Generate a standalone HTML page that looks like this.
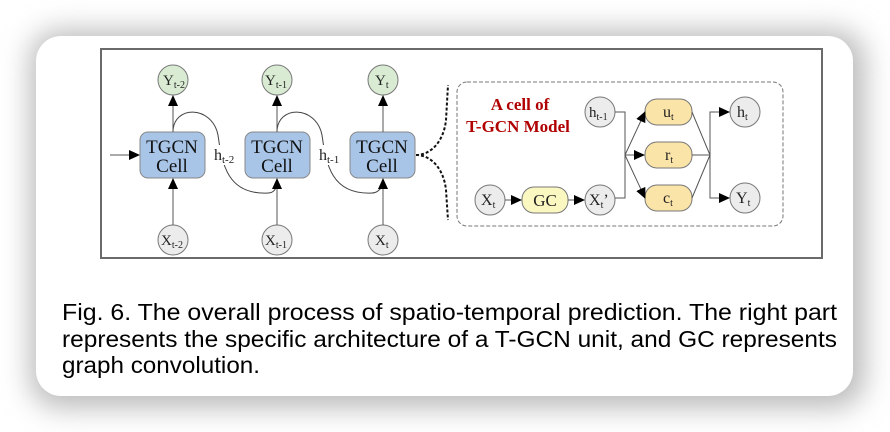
<!DOCTYPE html>
<html><head><meta charset="utf-8"><style>
html,body{margin:0;padding:0;background:#fff;}
body{width:890px;height:432px;overflow:hidden;position:relative;}
</style></head><body>
<svg width="890" height="432" viewBox="0 0 890 432" xmlns="http://www.w3.org/2000/svg" style="position:absolute;left:0;top:0">
<defs>
<filter id="sh" x="-10%" y="-20%" width="120%" height="140%"><feGaussianBlur stdDeviation="14"/></filter>
<marker id="a" markerWidth="11" markerHeight="10" refX="10" refY="5" orient="auto" markerUnits="userSpaceOnUse"><path d="M0,0 L11,5 L0,10 Z" fill="#000"/></marker>
</defs>
<rect x="0" y="0" width="890" height="432" fill="#fff"/>
<rect x="30" y="30" width="835" height="378" rx="30" fill="#bbb" filter="url(#sh)"/>
<rect x="36" y="36" width="817" height="360" rx="25" fill="#fff"/>
<rect x="101" y="49" width="721" height="209" fill="none" stroke="#6a6a6a" stroke-width="2"/>

<g font-family="Liberation Serif, serif" font-size="15" fill="#222" stroke-width="1">
<g stroke="#777" fill="#d9ecd3">
<circle cx="173" cy="80" r="15"/><circle cx="277" cy="80" r="15"/><circle cx="383" cy="80" r="15"/>
</g>
<g stroke="#777" fill="#ececec">
<circle cx="173" cy="240" r="15"/><circle cx="277" cy="240" r="15"/><circle cx="383" cy="240" r="15"/>
</g>
<text x="163" y="85">Y<tspan font-size="10" dy="3">t-2</tspan></text>
<text x="265" y="85">Y<tspan font-size="10" dy="3">t-1</tspan></text>
<text x="375" y="85">Y<tspan font-size="10" dy="3">t</tspan></text>
<text x="161" y="245">X<tspan font-size="10" dy="3">t-2</tspan></text>
<text x="265" y="245">X<tspan font-size="10" dy="3">t-1</tspan></text>
<text x="375" y="245">X<tspan font-size="10" dy="3">t</tspan></text>
<!-- h curves -->
<g stroke="#444" fill="none">
<path d="M173,132 C173,105 212,105 218,135 C222,165 228,195 268,193 C273,193 275,190 277,186"/>
<path d="M277,132 C277,105 316,105 322,135 C326,165 332,195 372,193 C377,193 379,190 383,186"/>
</g>
<rect x="212" y="145" width="28" height="20" fill="#fff"/>
<rect x="317" y="145" width="28" height="20" fill="#fff"/>
<text x="214" y="160" font-size="16">h<tspan font-size="11" dy="3">t-2</tspan></text>
<text x="319" y="160" font-size="16">h<tspan font-size="11" dy="3">t-1</tspan></text>
<g stroke="#888" fill="#a8c5e8">
<rect x="140" y="132" width="65" height="46" rx="8"/>
<rect x="245" y="132" width="65" height="46" rx="8"/>
<rect x="350" y="132" width="65" height="46" rx="8"/>
</g>
<g font-size="19" text-anchor="middle" fill="#111">
<text x="172" y="153">TGCN</text><text x="172" y="172">Cell</text>
<text x="277" y="153">TGCN</text><text x="277" y="172">Cell</text>
<text x="382" y="153">TGCN</text><text x="382" y="172">Cell</text>
</g>
<g stroke="#555" fill="none" marker-end="url(#a)">
<line x1="173" y1="132" x2="173" y2="96"/><line x1="277" y1="132" x2="277" y2="96"/><line x1="383" y1="132" x2="383" y2="96"/>
<line x1="173" y1="225" x2="173" y2="179"/><line x1="277" y1="225" x2="277" y2="179"/><line x1="383" y1="225" x2="383" y2="179"/>
<line x1="110" y1="155" x2="139" y2="155"/>
</g>
<path d="M416,155 C432,155 444,140 446,120 L448,85 M416,155 C432,155 444,170 446,190 L448,220" stroke="#111" stroke-width="2" stroke-dasharray="3,2" fill="none"/>
<rect x="457" y="82" width="326" height="144" rx="10" fill="none" stroke="#777" stroke-dasharray="4,2"/>
<g font-weight="bold" fill="#b00000" font-size="17" text-anchor="middle">
<text x="520" y="110">A cell of</text><text x="518" y="132">T-GCN Model</text>
</g>
<g stroke="#777" fill="#ececec">
<circle cx="600" cy="112" r="15"/><circle cx="490" cy="200" r="15"/><circle cx="600" cy="200" r="15"/>
<circle cx="745" cy="112" r="15"/><circle cx="745" cy="198" r="15"/>
</g>
<rect x="522" y="187" width="46" height="26" rx="12" fill="#fbf7c0" stroke="#777"/>
<g fill="#fbe4a8" stroke="#777">
<rect x="645" y="99" width="47" height="26" rx="12"/>
<rect x="645" y="142" width="47" height="26" rx="12"/>
<rect x="645" y="185" width="47" height="26" rx="12"/>
</g>
<text x="589" y="117">h<tspan font-size="10" dy="3">t-1</tspan></text>
<text x="481" y="205" font-size="16">X<tspan font-size="10" dy="3">t</tspan></text>
<text x="589" y="205" font-size="16">X<tspan font-size="10" dy="3">t</tspan><tspan dy="-3">’</tspan></text>
<text x="545" y="206" text-anchor="middle" font-size="17">GC</text>
<text x="663" y="117" font-size="16">u<tspan font-size="10" dy="3">t</tspan></text>
<text x="665" y="160" font-size="16">r<tspan font-size="10" dy="3">t</tspan></text>
<text x="663" y="203" font-size="16">c<tspan font-size="10" dy="3">t</tspan></text>
<text x="737" y="117" font-size="16">h<tspan font-size="10" dy="3">t</tspan></text>
<text x="736" y="203" font-size="16">Y<tspan font-size="10" dy="3">t</tspan></text>
<g stroke="#555" fill="none">
<polyline points="615,112 625,112 625,198 615,198"/>
<line x1="505" y1="200" x2="521" y2="200" marker-end="url(#a)"/>
<line x1="568" y1="200" x2="584" y2="200" marker-end="url(#a)"/>
<line x1="625" y1="155" x2="645" y2="112" marker-end="url(#a)"/>
<line x1="625" y1="155" x2="644" y2="155" marker-end="url(#a)"/>
<line x1="625" y1="155" x2="645" y2="198" marker-end="url(#a)"/>
<line x1="692" y1="112" x2="710" y2="155"/>
<line x1="692" y1="155" x2="710" y2="155"/>
<line x1="692" y1="198" x2="710" y2="155"/>
<polyline points="729,112 710,112 710,198 729,198"/>
<line x1="715" y1="112" x2="729" y2="112" marker-end="url(#a)"/>
<line x1="715" y1="198" x2="729" y2="198" marker-end="url(#a)"/>
</g>
</g>
<g font-family="Liberation Sans, sans-serif" font-size="23" fill="#000">
<text x="62" y="320" textLength="775" lengthAdjust="spacingAndGlyphs">Fig. 6. The overall process of spatio-temporal prediction. The right part</text>
<text x="62" y="347" textLength="775" lengthAdjust="spacingAndGlyphs">represents the specific architecture of a T-GCN unit, and GC represents</text>
<text x="62" y="373" textLength="198" lengthAdjust="spacingAndGlyphs">graph convolution.</text>
</g>
</svg>
</body></html>
